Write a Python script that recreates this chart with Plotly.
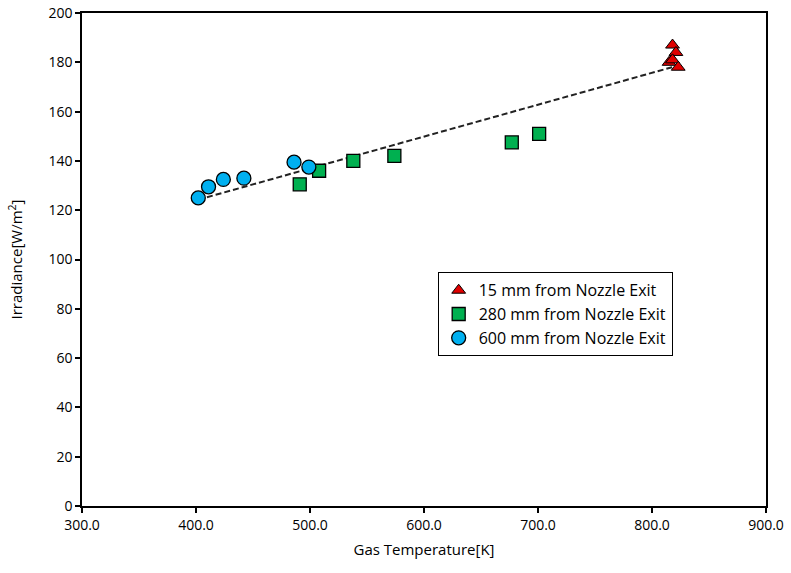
import numpy as np
import plotly.graph_objects as go

# Measured gas temperature [K] and irradiance [W/m2] at three distances
temp_15mm = [818, 821, 815, 818, 823]
irr_15mm = [187, 184, 180, 181, 178]

temp_280mm = [491, 508, 538, 574, 677, 701]
irr_280mm = [130.5, 136, 140, 142, 147.5, 151]

temp_600mm = [402, 411, 424, 442, 486, 499]
irr_600mm = [125, 129.5, 132.5, 133, 139.5, 137.5]

x_ticks = [300, 400, 500, 600, 700, 800, 900]
y_ticks = [0, 20, 40, 60, 80, 100, 120, 140, 160, 180, 200]

font_family = "Open Sans, Liberation Sans, sans-serif"

# Linear trend over all measurements
all_t = np.array(temp_15mm + temp_280mm + temp_600mm, dtype=float)
all_i = np.array(irr_15mm + irr_280mm + irr_600mm, dtype=float)
slope, intercept = np.polyfit(all_t, all_i, 1)
fit_t = np.array([all_t.min(), all_t.max()])
fit_i = slope * fit_t + intercept

fig = go.Figure()

fig.add_trace(go.Scatter(
    x=fit_t, y=fit_i, mode="lines",
    line=dict(color="#222222", width=2, dash="6px,3px"),
    showlegend=False, hoverinfo="skip"))

fig.add_trace(go.Scatter(
    x=temp_15mm, y=irr_15mm, mode="markers", name="15 mm from Nozzle Exit",
    marker=dict(symbol="triangle-up", size=12, color="#E00000",
                line=dict(color="#000000", width=1))))

fig.add_trace(go.Scatter(
    x=temp_280mm, y=irr_280mm, mode="markers", name="280 mm from Nozzle Exit",
    marker=dict(symbol="square", size=13, color="#00B050",
                line=dict(color="#000000", width=1.3))))

fig.add_trace(go.Scatter(
    x=temp_600mm, y=irr_600mm, mode="markers", name="600 mm from Nozzle Exit",
    marker=dict(symbol="circle", size=14, color="#00B0F0",
                line=dict(color="#000000", width=1.3))))

axis_common = dict(
    showgrid=False, zeroline=False, showline=True, linecolor="#000000",
    linewidth=1.5, mirror=True, ticks="outside", ticklen=5, tickwidth=1.5,
    tickcolor="#000000", automargin=False,
    tickfont=dict(size=14, color="#000000", family=font_family),
)

fig.update_layout(
    width=791, height=573,
    margin=dict(l=82, r=25, t=13, b=67),
    paper_bgcolor="#FFFFFF", plot_bgcolor="#FFFFFF",
    font=dict(family=font_family, color="#000000"),
    xaxis=dict(range=[300, 900], tickvals=x_ticks,
               ticktext=[f"{v:.1f}" for v in x_ticks],
               title=dict(text="Gas Temperature[K]", font=dict(size=15), standoff=12),
               **axis_common),
    yaxis=dict(range=[0, 200], tickvals=y_ticks,
               title=dict(text="Irradiance[W/m<sup>2</sup>]", font=dict(size=15), standoff=22),
               **axis_common),
    legend=dict(x=0.52, y=0.474, xanchor="left", yanchor="top",
                bgcolor="#FFFFFF", bordercolor="#000000", borderwidth=1,
                font=dict(size=16, color="#000000", family=font_family),
                itemsizing="trace"),
)

fig.write_html("out.html")
